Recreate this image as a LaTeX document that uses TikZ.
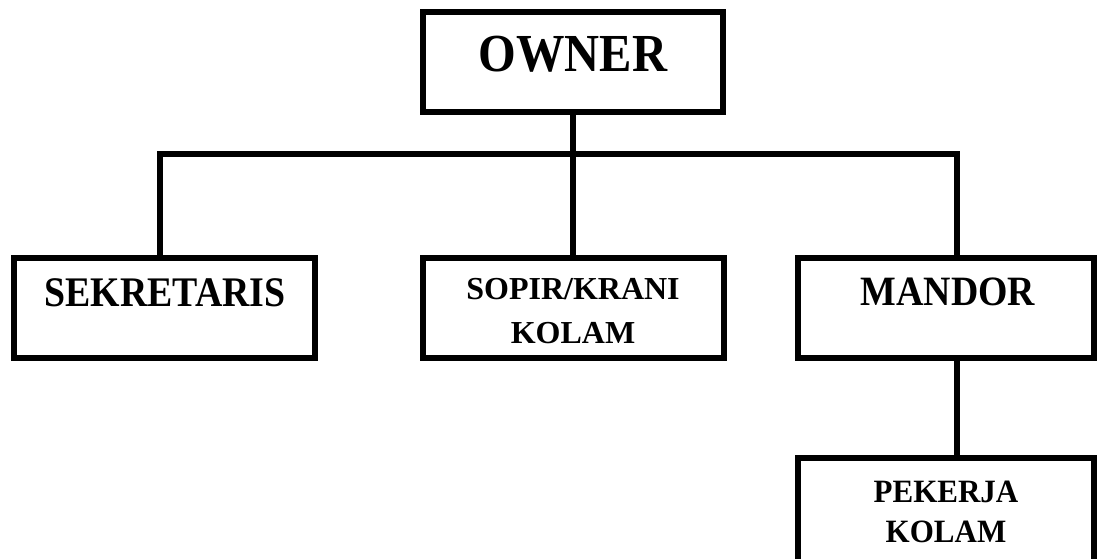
\documentclass[tikz,border=0pt]{standalone}
\usepackage{graphicx}
\usepackage{fontspec}
\setmainfont{Liberation Serif}
\begin{document}
\begin{tikzpicture}[x=1pt,y=-1pt,
  box/.style={draw=black, line width=6pt, fill=white, inner sep=0pt, minimum height=100pt},
  conn/.style={draw=black, line width=6pt},
  lbl/.style={anchor=base, inner sep=0pt, font=\bfseries}]
\useasboundingbox (0,0) rectangle (1097,558);
% boxes
\node[box, minimum width=300pt] (owner) at (573,62) {};
\node[box, minimum width=301pt] (sek) at (164.5,308) {};
\node[box, minimum width=301pt] (sopir) at (573.5,308) {};
\node[box, minimum width=296pt] (mandor) at (946,308) {};
\node[box, minimum width=296pt, minimum height=110pt] (pekerja) at (946,513) {};
% junctions
\coordinate (jL) at (160,154);
\coordinate (jR) at (957,154);
% connectors
\draw[conn] (owner.south) -- (owner.south |- sopir.north);
\draw[conn] (jL |- sek.north) -- (jL) -- (jR) -- (jR |- mandor.north);
\draw[conn] (jR |- mandor.south) -- (jR |- pekerja.north);
% labels
\node[lbl, font=\bfseries\fontsize{50}{50}\selectfont] (tOwner) at (573,71) {\scalebox{0.97}[1.07]{OWNER}};
\node[lbl, font=\bfseries\fontsize{39}{39}\selectfont] (tSek) at (165,306) {\scalebox{0.97}[1.08]{SEKRETARIS}};
\node[lbl, font=\bfseries\fontsize{32}{32}\selectfont] (tSopir1) at (573,299) {SOPIR/KRANI};
\node[lbl, font=\bfseries\fontsize{32}{32}\selectfont] (tSopir2) at (573,343) {KOLAM};
\node[lbl, font=\bfseries\fontsize{39}{39}\selectfont] (tMandor) at (948,305) {\scalebox{0.97}[1.07]{MANDOR}};
\node[lbl, font=\bfseries\fontsize{31}{31}\selectfont] (tPek1) at (946,502) {\scalebox{1}[1.05]{PEKERJA}};
\node[lbl, font=\bfseries\fontsize{31}{31}\selectfont] (tPek2) at (946,542) {\scalebox{1}[1.05]{KOLAM}};
\end{tikzpicture}
\end{document}
